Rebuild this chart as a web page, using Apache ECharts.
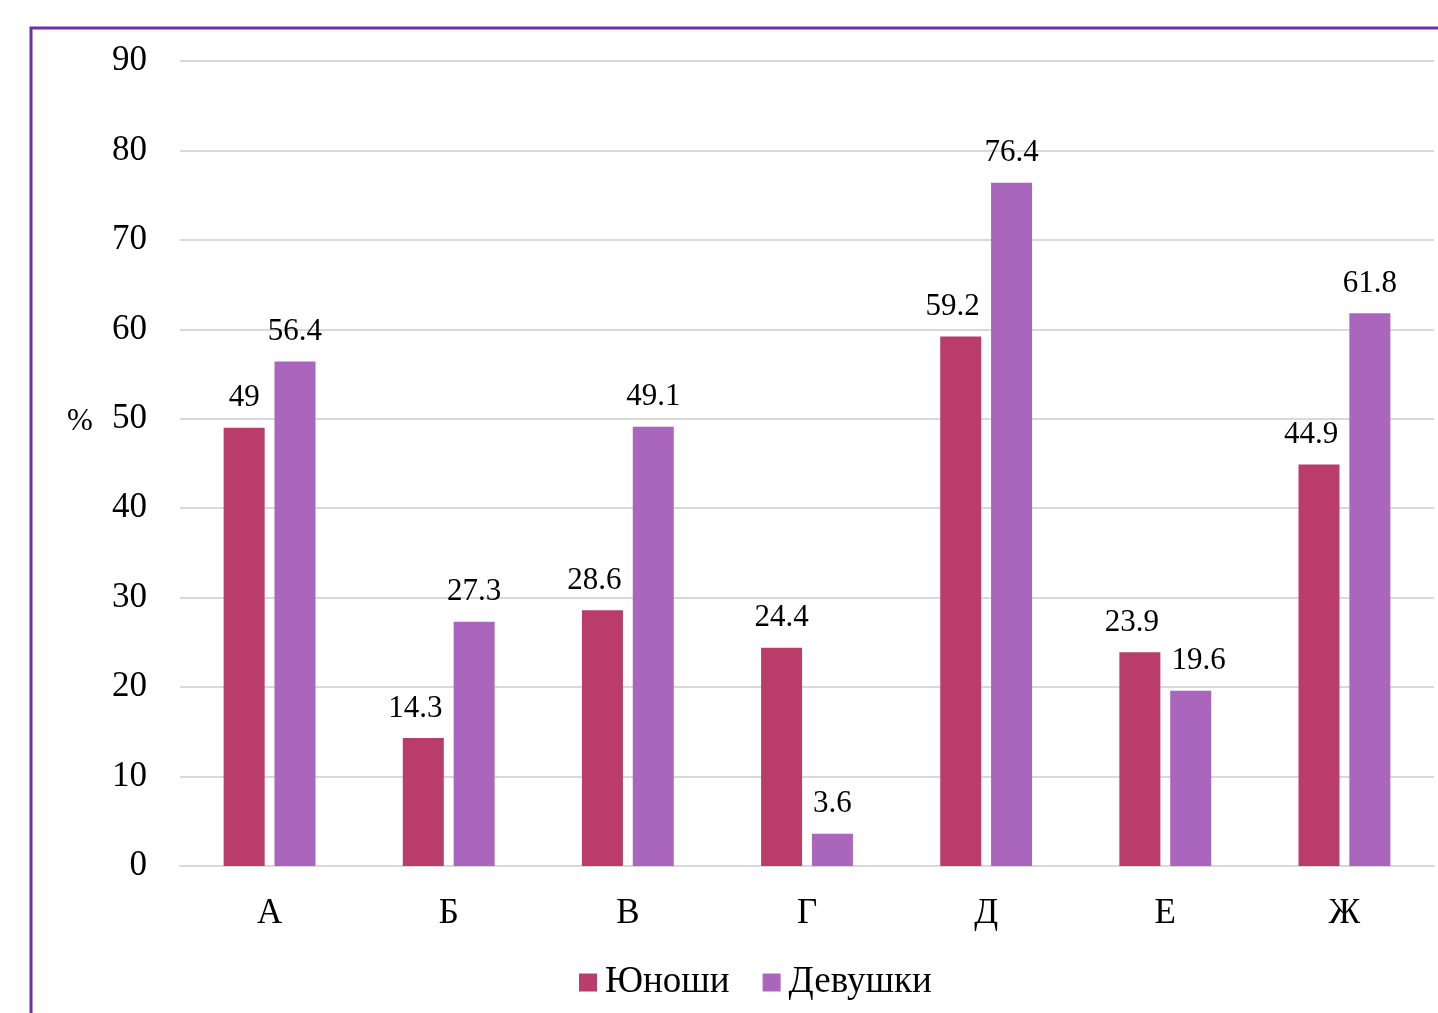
<!DOCTYPE html>
<html><head><meta charset="utf-8">
<script src="https://cdn.jsdelivr.net/npm/echarts@6/dist/echarts.min.js"></script>
<style>html,body{margin:0;padding:0;background:#fff}#c{width:1438px;height:1013px}</style>
</head><body><div id="c"></div>
<script>
const categories = ['А','Б','В','Г','Д','Е','Ж'];
const boys = [49, 14.3, 28.6, 24.4, 59.2, 23.9, 44.9];
const girls = [56.4, 27.3, 49.1, 3.6, 76.4, 19.6, 61.8];
const seriesNames = ['Юноши','Девушки'];
const yTicks = {min: 0, max: 90, interval: 10};
const yUnit = '%';

const font = 'Liberation Serif, Times New Roman, serif';
const chart = echarts.init(document.getElementById('c'));
const lbl = {show: true, position: 'top', distance: 14, color: '#000', fontFamily: font, fontSize: 31};
// nudge a wide label away from a taller neighbouring bar or a nearby neighbouring label
function withNudge(vals, other, dir) {
  return vals.map((v, i) => {
    const wide = String(v).length > 3;
    const close = Math.abs(v - other[i]) < 6 && String(other[i]).length > 3;
    if (wide && (other[i] > v || close)) return {value: v, label: {offset: [dir * 8, 0]}};
    return v;
  });
}
chart.setOption({
  animation: false,
  textStyle: {fontFamily: font},
  graphic: [{
    type: 'polyline',
    shape: {points: [[31, 1013], [31, 28], [1438, 28]]},
    style: {stroke: '#7030A0', lineWidth: 3, fill: null}
  }, {
    type: 'text', left: 67, top: 406,
    style: {text: yUnit, fill: '#000', font: '31px ' + font}
  }],
  legend: {
    data: seriesNames, top: 959, left: 574,
    itemWidth: 18, itemHeight: 18, itemGap: 33,
    icon: 'rect',
    textStyle: {fontFamily: font, fontSize: 37, color: '#000', padding: [5, 0, 0, 3]}
  },
  grid: {left: 180, right: 4, top: 61, bottom: 147},
  xAxis: {
    type: 'category', data: categories,
    axisLine: {lineStyle: {color: '#D9D9D9', width: 2}},
    axisTick: {show: false},
    axisLabel: {color: '#000', fontFamily: font, fontSize: 35, margin: 30}
  },
  yAxis: {
    type: 'value', min: yTicks.min, max: yTicks.max, interval: yTicks.interval,
    axisLine: {show: false}, axisTick: {show: false},
    axisLabel: {color: '#000', fontFamily: font, fontSize: 35, margin: 33},
    splitLine: {lineStyle: {color: '#D9D9D9', width: 2}}
  },
  series: [
    {name: seriesNames[0], type: 'bar', data: withNudge(boys, girls, -1), barWidth: 41, barGap: '24%',
     itemStyle: {color: '#BA3C68'}, label: lbl},
    {name: seriesNames[1], type: 'bar', data: withNudge(girls, boys, 1), barWidth: 41,
     itemStyle: {color: '#AA66BD'}, label: lbl}
  ]
});
</script></body></html>
